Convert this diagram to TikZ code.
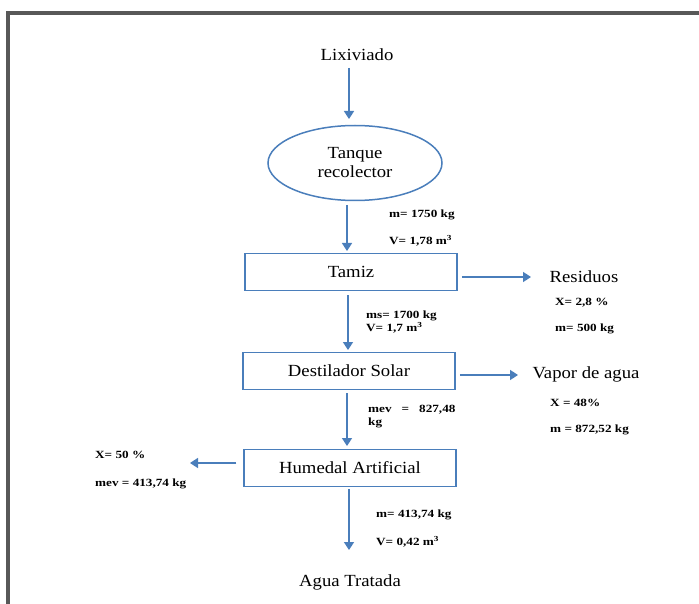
\documentclass[tikz,border=0pt]{standalone}
\usepackage{fontspec}
\setmainfont{Liberation Serif}[FakeStretch=1.1]
\newfontfamily\notefont{Liberation Serif}[FakeStretch=1.2]
\usepackage{xcolor}
\usetikzlibrary{arrows.meta,positioning,shapes.geometric}
\definecolor{flowBlue}{HTML}{4A7EBB}
\definecolor{frameGrey}{HTML}{585858}

\begin{document}
\begin{tikzpicture}[
    x=1pt, y=-1pt,
    stage/.style={rectangle, draw=flowBlue, line width=1.5pt,
                  minimum width=212pt, minimum height=37pt,
                  font=\fontsize{17}{19}\selectfont},
    tank/.style={ellipse, draw=flowBlue, line width=1.5pt,
                 minimum width=174pt, minimum height=75pt, inner sep=0pt,
                 align=center, font=\fontsize{17}{19}\selectfont},
    lbl/.style={font=\fontsize{17}{19}\selectfont},
    note/.style={anchor=west, inner sep=0pt, align=left,
                 font=\notefont\bfseries\fontsize{11}{13}\selectfont},
    arr/.style={-{Triangle[width=10pt,length=8pt]}, line width=1.6pt, color=flowBlue}
  ]
    \useasboundingbox (0,0) rectangle (699,604);
    % frame
    \draw[frameGrey, line width=3.5pt] (8,604) -- (8,13) -- (699,13);

    % main line
    \node[lbl] (lix) at (357,55) {Lixiviado};
    \node[tank] (tanque) at (355,163) {Tanque\\recolector};
    \node[stage] (tamiz) at (351,272) {Tamiz};
    \node[stage] (dest) at (349,371) {Destilador Solar};
    \node[stage] (hum) at (350,468) {Humedal Artificial};
    \node[lbl] (agua) at (350,582) {Agua Tratada};

    % side outputs
    \node[lbl] (res) at (584,277) {Residuos};
    \node[lbl] (vapor) at (586,374) {Vapor de agua};
    \coordinate (resin) at (531,277);
    \coordinate (vapin) at (518,375);
    \coordinate (evap) at (190,463);

    % flows
    \draw[arr] (349,68) -- (349,119);
    \draw[arr] (347,205) -- (347,251);
    \draw[arr] (348,295) -- (348,350);
    \draw[arr] (347,393) -- (347,446);
    \draw[arr] (349,489) -- (349,550);
    \draw[arr] (tamiz.east |- resin) ++(4,0) -- (resin);
    \draw[arr] (dest.east |- vapin) ++(4,0) -- (vapin);
    \draw[arr] ([xshift=-7pt]hum.west |- evap) -- (evap);

    % data
    \node[note] (m1) at (389,215) {m= 1750 kg};
    \node[note] (v1) at (389,241) {V= 1,78 m\textsuperscript{3}};
    \node[note] (ms) at (366,316) {ms= 1700 kg};
    \node[note] (vs) at (366,328) {V= 1,7 m\textsuperscript{3}};
    \node[note] (xr) at (555,303) {X= 2,8 \%};
    \node[note] (mr) at (555,329) {m= 500 kg};
    \node[note] (mev) at (368,410) {mev\hspace{10pt}=\hspace{10pt}827,48};
    \node[note] (kg) at (368,423) {kg};
    \node[note] (xv) at (550,403) {X = 48\%};
    \node[note] (mv) at (550,430) {m = 872,52 kg};
    \node[note] (xh) at (95,455) {X= 50 \%};
    \node[note] (mh) at (95,484) {mev = 413,74 kg};
    \node[note] (mt) at (376,515) {m= 413,74 kg};
    \node[note] (vt) at (376,542) {V= 0,42 m\textsuperscript{3}};
  \end{tikzpicture}
\end{document}
